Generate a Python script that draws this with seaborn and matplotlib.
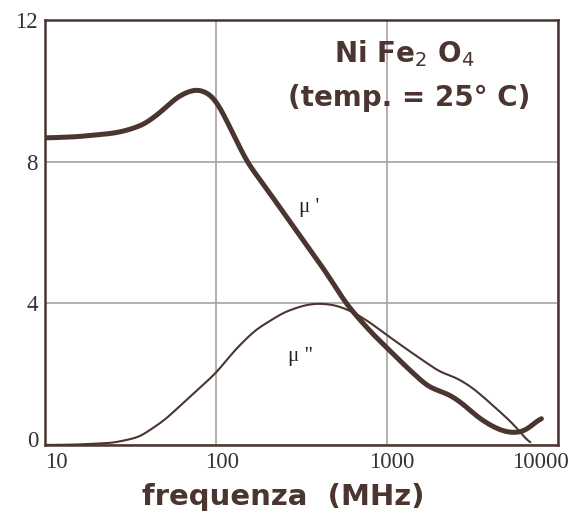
import numpy as np
import pandas as pd
import matplotlib
matplotlib.use("Agg")
import matplotlib.pyplot as plt
import matplotlib.transforms as mtrans
import seaborn as sns

# frequenza (MHz) e permeabilita'
freq_mu1 = [10, 15, 25, 30, 38, 47, 60, 76, 90, 100, 120, 151, 200, 300, 430, 575, 632, 800,
            1000, 1300, 1740, 2350, 2800, 3380, 4200, 5000, 5720, 6500, 7240, 8000]
mu1 = [8.67, 8.7, 8.8, 8.88, 9.05, 9.38, 9.85, 10.06, 9.95, 9.75, 9.0, 8.0, 7.2, 6.0, 4.95,
       4.0, 3.76, 3.2, 2.74, 2.2, 1.64, 1.41, 1.15, 0.79, 0.5, 0.36, 0.34, 0.4, 0.6, 0.8]

freq_mu2 = [10, 15, 25, 35.6, 50, 70, 100, 130, 170, 250, 330, 397, 500, 632, 800,
            1000, 1400, 2040, 2570, 3200, 4000, 4800, 5720, 6900]
mu2 = [0.0, 0.01, 0.06, 0.22, 0.7, 1.35, 2.03, 2.7, 3.25, 3.75, 3.95, 4.0, 3.95, 3.76, 3.45,
       3.1, 2.6, 2.06, 1.89, 1.6, 1.19, 0.85, 0.5, 0.0]

x_ticks = [10, 100, 1000, 10000]
y_ticks = [0, 4, 8, 12]

brown = "#4a3531"

sns.set_theme(style="white")
plt.rcParams['font.family'] = ['DejaVu Sans']

fig = plt.figure(figsize=(5.72, 5.13), dpi=100)
ax = fig.add_axes([0.0787, 0.1326, 0.8968, 0.8284])

df1 = pd.DataFrame({"f": freq_mu1, "mu": mu1})
df2 = pd.DataFrame({"f": freq_mu2, "mu": mu2})


def liscia(df, n=800, sigma=9):
    # interpolazione in scala log + smussatura gaussiana leggera
    lx = np.log10(df["f"].values)
    xs = np.linspace(lx.min(), lx.max(), n)
    ys = np.interp(xs, lx, df["mu"].values)
    k = np.arange(-3 * sigma, 3 * sigma + 1)
    ker = np.exp(-0.5 * (k / sigma) ** 2)
    ker /= ker.sum()
    pad = np.pad(ys, 3 * sigma, mode="edge")
    ys = np.convolve(pad, ker, mode="valid")
    return pd.DataFrame({"f": 10 ** xs, "mu": ys})


sns.lineplot(data=liscia(df1), x="f", y="mu", ax=ax, color=brown, linewidth=3.6,
             sort=False)
sns.lineplot(data=liscia(df2), x="f", y="mu", ax=ax, color=brown, linewidth=1.5,
             sort=False)

ax.set_xscale("log")
ax.set_xlim(10, 10000)
ax.set_ylim(0, 12)
ax.set_xticks(x_ticks)
ax.set_xticklabels([str(t) for t in x_ticks])
ax.set_yticks(y_ticks)
ax.set_yticklabels([str(t) for t in y_ticks])
ax.minorticks_off()
ax.grid(True, color="#a8a2a0", linewidth=1.2)
ax.tick_params(length=0, labelsize=16.5, colors="#333333", pad=5)
for lab in ax.get_xticklabels() + ax.get_yticklabels():
    lab.set_fontfamily("Liberation Serif")

# spostamenti orizzontali delle etichette come nell'originale
shifts = [11, 6, 5, -18]
for lab, dx in zip(ax.get_xticklabels(), shifts):
    lab.set_transform(lab.get_transform() +
                      mtrans.ScaledTranslation(dx / 100, 0, fig.dpi_scale_trans))
ylab0 = ax.get_yticklabels()[0]
ylab0.set_transform(ylab0.get_transform() +
                    mtrans.ScaledTranslation(0, 6 / 100, fig.dpi_scale_trans))

for s in ax.spines.values():
    s.set_color(brown)
    s.set_linewidth(1.8)

ax.set_ylabel("")
ax.set_xlabel("frequenza  (MHz)", fontsize=21, fontweight="bold", color=brown)
ax.xaxis.set_label_coords(0.465, -0.09)

ax.text(0.70, 0.922, r"Ni Fe$_2$ O$_4$", transform=ax.transAxes, ha="center",
        va="center", fontsize=20, fontweight="bold", color=brown)
ax.text(0.71, 0.816, "(temp. = 25° C)", transform=ax.transAxes, ha="center",
        va="center", fontsize=20, fontweight="bold", color=brown)

ax.text(305, 6.7, "μ '", fontsize=15, color="#222222", family="Liberation Serif",
        ha="left", va="center")
ax.text(262, 2.5, 'μ "', fontsize=15, color="#222222", family="Liberation Serif",
        ha="left", va="center")

fig.savefig("out.png", dpi=100)
